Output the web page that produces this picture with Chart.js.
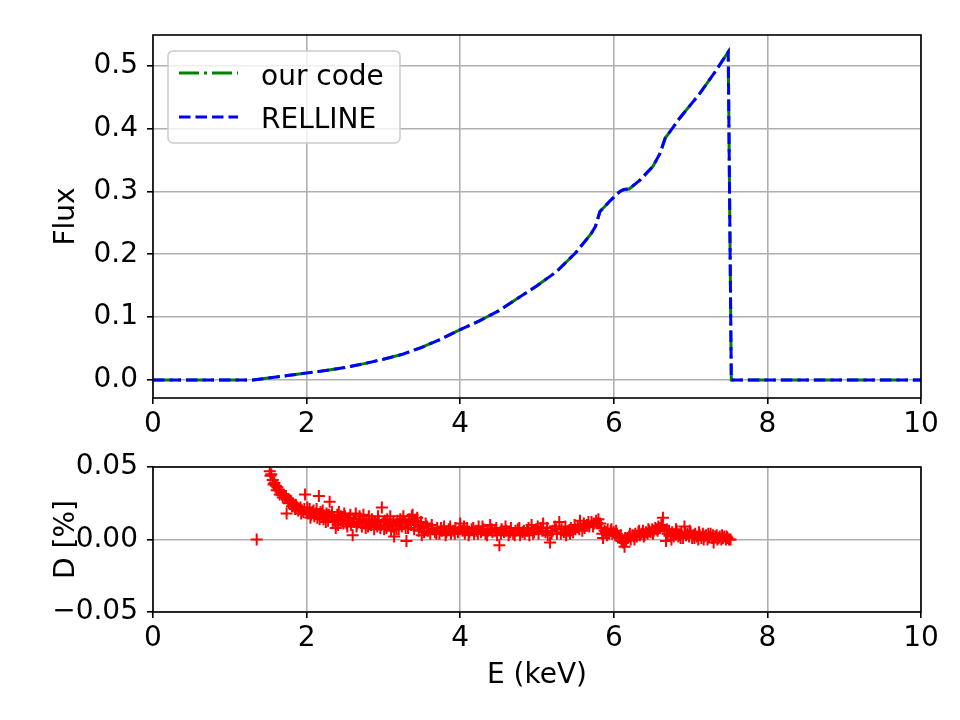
<!DOCTYPE html>
<html>
<head>
<meta charset="utf-8">
<script src="https://cdn.jsdelivr.net/npm/chart.js@4.4.0/dist/chart.umd.min.js"></script>
<style>
  body { margin: 0; background: #fff; }
  #wrap { position: relative; width: 960px; height: 720px; }
  canvas { position: absolute; left: 0; }
</style>
</head>
<body>
<div id="wrap">
  <canvas id="flujo" width="960" height="440" style="top:0px"></canvas>
  <canvas id="resid" width="960" height="280" style="top:440px"></canvas>
</div>
<script>
// energia (keV) y flujo de la linea
var energia = [0, 1.30, 1.50, 1.75, 2.00, 2.25, 2.50, 2.75, 3.00, 3.25, 3.50, 3.75,
  4.00, 4.25, 4.50, 4.75, 5.00, 5.25, 5.50, 5.70, 5.76, 5.82, 5.95, 6.08, 6.13,
  6.20, 6.34, 6.51, 6.60, 6.67, 6.86, 7.12, 7.30, 7.49, 7.53, 10];
var fluxOurCode = [0, 0, 0.003, 0.007, 0.011, 0.015, 0.020, 0.026, 0.033, 0.041, 0.052, 0.065,
  0.080, 0.094, 0.110, 0.130, 0.150, 0.172, 0.202, 0.232, 0.244, 0.268, 0.285, 0.300, 0.303,
  0.304, 0.318, 0.340, 0.360, 0.385, 0.417, 0.456, 0.487, 0.522, 0, 0];
var fluxRelline = [0, 0, 0.003, 0.007, 0.011, 0.015, 0.020, 0.026, 0.033, 0.041, 0.052, 0.065,
  0.080, 0.094, 0.110, 0.130, 0.150, 0.172, 0.202, 0.232, 0.244, 0.268, 0.285, 0.300, 0.303,
  0.304, 0.318, 0.340, 0.360, 0.385, 0.417, 0.456, 0.487, 0.522, 0, 0];

// diferencia D [%] entre los dos codigos
var energiaD = [
  1.35, 1.52, 1.54, 1.56, 1.58, 1.60, 1.62, 1.64, 1.66, 1.68,
  1.70, 1.72, 1.74, 1.76, 1.78, 1.80, 1.82, 1.84, 1.86, 1.88,
  1.90, 1.92, 1.94, 1.96, 1.98, 2.00, 2.02, 2.04, 2.06, 2.08,
  2.10, 2.12, 2.14, 2.16, 2.18, 2.20, 2.22, 2.24, 2.26, 2.28,
  2.30, 2.32, 2.34, 2.36, 2.38, 2.40, 2.42, 2.44, 2.46, 2.48,
  2.50, 2.52, 2.54, 2.56, 2.58, 2.60, 2.62, 2.64, 2.66, 2.68,
  2.70, 2.72, 2.74, 2.76, 2.78, 2.80, 2.82, 2.84, 2.86, 2.88,
  2.90, 2.92, 2.94, 2.96, 2.98, 3.00, 3.02, 3.04, 3.06, 3.08,
  3.10, 3.12, 3.14, 3.16, 3.18, 3.20, 3.22, 3.24, 3.26, 3.28,
  3.30, 3.32, 3.34, 3.36, 3.38, 3.40, 3.42, 3.44, 3.46, 3.48,
  3.50, 3.52, 3.55, 3.58, 3.61, 3.64, 3.67, 3.70, 3.73, 3.76,
  3.79, 3.82, 3.85, 3.88, 3.91, 3.94, 3.97, 4.00, 4.03, 4.06,
  4.09, 4.12, 4.15, 4.18, 4.21, 4.24, 4.27, 4.30, 4.33, 4.36,
  4.39, 4.42, 4.45, 4.48, 4.51, 4.54, 4.57, 4.60, 4.63, 4.66,
  4.69, 4.72, 4.75, 4.78, 4.81, 4.84, 4.87, 4.90, 4.93, 4.96,
  4.99, 5.02, 5.05, 5.08, 5.11, 5.14, 5.17, 5.20, 5.23, 5.26,
  5.29, 5.32, 5.35, 5.38, 5.41, 5.44, 5.47, 5.50, 5.53, 5.56,
  5.59, 5.62, 5.65, 5.68, 5.71, 5.74, 5.77, 5.80, 5.82, 5.84,
  5.86, 5.88, 5.90, 5.92, 5.94, 5.96, 5.98, 6.00, 6.02, 6.04,
  6.06, 6.08, 6.10, 6.12, 6.14, 6.16, 6.18, 6.20, 6.22, 6.24,
  6.26, 6.28, 6.30, 6.32, 6.34, 6.36, 6.38, 6.40, 6.42, 6.44,
  6.46, 6.48, 6.50, 6.52, 6.54, 6.56, 6.58, 6.60, 6.62, 6.64,
  6.66, 6.68, 6.70, 6.72, 6.74, 6.76, 6.78, 6.80, 6.82, 6.84,
  6.86, 6.88, 6.90, 6.92, 6.94, 6.96, 6.98, 7.00, 7.02, 7.04,
  7.06, 7.08, 7.10, 7.12, 7.14, 7.16, 7.18, 7.20, 7.22, 7.24,
  7.26, 7.28, 7.30, 7.32, 7.34, 7.36, 7.38, 7.40, 7.42, 7.44,
  7.46, 7.48, 7.50, 7.52,
  1.53, 1.57, 1.61, 1.65, 1.69, 1.73, 1.77, 1.81, 1.85, 1.89,
  1.93, 1.97, 2.01, 2.05, 2.09, 2.13, 2.17, 2.21, 2.25, 2.29,
  2.33, 2.37, 2.41, 2.45, 2.49, 2.53, 2.57, 2.61, 2.65, 2.69,
  2.73, 2.77, 2.81, 2.85, 2.89, 2.93, 2.97, 3.01, 3.05, 3.09,
  3.13, 3.17, 3.21, 3.25, 3.29, 3.33, 3.37, 3.41, 3.45, 3.49,
  3.53, 3.57, 3.63, 3.69, 3.75, 3.81, 3.87, 3.93, 3.99, 4.05,
  4.11, 4.17, 4.23, 4.29, 4.35, 4.41, 4.47, 4.53, 4.59, 4.65,
  4.71, 4.77, 4.83, 4.89, 4.95, 5.01, 5.07, 5.13, 5.19, 5.25,
  5.31, 5.37, 5.43, 5.49, 5.55, 5.61, 5.67, 5.73, 5.79, 5.85,
  5.91, 5.97, 6.03, 6.09, 6.15, 6.21, 6.27, 6.33, 6.39, 6.45,
  6.51, 6.57, 6.63, 6.69, 6.75, 6.81, 6.87, 6.93, 6.99, 7.05,
  7.11, 7.17, 7.23, 7.29, 7.35, 7.41, 7.47
];
var difD = [
  0.000, 0.047, 0.045, 0.041, 0.039, 0.037, 0.036, 0.034, 0.033, 0.031,
  0.031, 0.029, 0.018, 0.028, 0.027, 0.026, 0.025, 0.023, 0.024, 0.022,
  0.021, 0.022, 0.020, 0.019, 0.031, 0.019, 0.018, 0.021, 0.017, 0.019,
  0.016, 0.018, 0.015, 0.030, 0.019, 0.017, 0.014, 0.016, 0.018, 0.013,
  0.026, 0.016, 0.012, 0.015, 0.008, 0.017, 0.019, 0.013, 0.014, 0.011,
  0.016, 0.011, 0.013, 0.015, 0.010, 0.003, 0.012, 0.018, 0.011, 0.012,
  0.014, 0.009, 0.017, 0.011, 0.013, 0.009, 0.013, 0.010, 0.012, 0.007,
  0.011, 0.009, 0.013, 0.008, 0.022, 0.012, 0.013, 0.008, 0.010, 0.011,
  0.006, 0.009, 0.002, 0.010, 0.013, 0.007, 0.014, 0.009, 0.016, 0.012,
  -0.001, 0.008, 0.014, 0.010, 0.017, 0.007, 0.012, 0.015, 0.006, 0.009,
  0.003, 0.008, 0.011, 0.006, 0.004, 0.007, 0.005, 0.008, 0.004, 0.006,
  0.009, 0.005, 0.007, 0.004, 0.006, 0.008, 0.005, 0.011, 0.006, 0.004,
  0.008, 0.005, 0.007, 0.004, 0.006, 0.009, 0.005, 0.007, 0.004, 0.006,
  0.010, 0.005, 0.006, 0.003, -0.004, 0.007, 0.005, 0.006, 0.003, 0.008,
  0.004, 0.006, 0.007, 0.003, 0.005, 0.004, 0.006, 0.003, 0.010, 0.005,
  0.007, 0.004, 0.008, 0.011, 0.005, 0.003, -0.002, 0.006, 0.009, 0.004,
  0.012, 0.007, 0.005, 0.003, 0.006, 0.008, 0.005, 0.007, 0.009, 0.013,
  0.006, 0.008, 0.010, 0.009, 0.012, 0.011, 0.013, 0.014, 0.011, 0.008,
  0.001, 0.006, 0.005, 0.007, 0.004, 0.006, 0.004, 0.005, 0.003, 0.004,
  0.002, 0.001, -0.001, -0.002, -0.005, -0.001, 0.001, 0.002, 0.000, 0.003,
  0.002, 0.004, 0.002, 0.005, 0.003, 0.004, 0.006, 0.003, 0.005, 0.004,
  0.006, 0.005, 0.007, 0.006, 0.008, 0.007, 0.009, 0.008, 0.010, 0.015,
  0.006, -0.001, 0.004, 0.006, 0.003, 0.005, 0.002, 0.004, 0.006, 0.002,
  0.003, 0.005, 0.001, 0.009, 0.003, 0.004, 0.002, 0.005, 0.001, 0.003,
  0.004, 0.002, 0.000, 0.003, 0.001, 0.004, 0.002, 0.003, 0.000, 0.002,
  0.004, 0.001, -0.002, 0.002, 0.003, 0.001, 0.002, 0.000, 0.001, 0.002,
  0.000, 0.001, 0.000, 0.000,
  0.044, 0.038, 0.034, 0.031, 0.029, 0.030, 0.025, 0.023, 0.021, 0.020,
  0.018, 0.021, 0.022, 0.015, 0.020, 0.021, 0.014, 0.020, 0.012, 0.017,
  0.019, 0.013, 0.010, 0.016, 0.018, 0.009, 0.017, 0.014, 0.009, 0.016,
  0.013, 0.008, 0.016, 0.014, 0.012, 0.016, 0.010, 0.007, 0.014, 0.016,
  0.012, 0.007, 0.011, 0.013, 0.008, 0.011, 0.016, 0.013, 0.010, 0.012,
  0.005, 0.009, 0.010, 0.004, 0.008, 0.003, 0.009, 0.004, 0.007, 0.009,
  0.003, 0.008, 0.004, 0.009, 0.003, 0.007, 0.008, 0.004, 0.009, 0.005,
  0.003, 0.008, 0.006, 0.008, 0.004, 0.009, 0.006, 0.008, 0.004, 0.007,
  0.004, 0.009, 0.004, 0.010, 0.007, 0.011, 0.012, 0.009, 0.011, 0.004,
  0.003, 0.007, 0.006, 0.003, 0.001, 0.004, 0.000, 0.006, 0.002, 0.007,
  0.004, 0.006, 0.009, 0.007, 0.000, 0.007, 0.001, 0.005, 0.006, 0.001,
  0.005, 0.000, 0.004, 0.003, 0.000, 0.003, 0.002
];

// marcas de los ejes
var ticksE = [0, 2, 4, 6, 8, 10];
var ticksFlux = [0, 0.1, 0.2, 0.3, 0.4, 0.5];
var ticksD = [-0.05, 0, 0.05];

Chart.defaults.font.family = "'DejaVu Sans', sans-serif";
Chart.defaults.font.size = 28;
Chart.defaults.color = "#000";

function pares(xs, ys) {
  return xs.map(function (x, i) { return { x: x, y: ys[i] }; });
}

// marco negro alrededor del area y leyenda tipo matplotlib
var marco = {
  id: "marco",
  afterDatasetsDraw: function (chart, args, opts) {
    var a = chart.chartArea, c = chart.ctx;
    c.save();
    if (opts.leyenda) {
      var lx = a.left + 15, ly = a.top + 16;
      c.beginPath();
      c.roundRect(lx, ly, 232, 92, 5);
      c.fillStyle = "rgba(255,255,255,0.8)";
      c.fill();
      c.strokeStyle = "#cccccc";
      c.lineWidth = 1.5;
      c.stroke();
      chart.data.datasets.forEach(function (ds, i) {
        c.beginPath();
        c.setLineDash(ds.borderDash);
        c.strokeStyle = ds.borderColor;
        c.lineWidth = ds.borderWidth;
        c.moveTo(lx + 11, ly + 22 + 44 * i);
        c.lineTo(lx + 70, ly + 22 + 44 * i);
        c.stroke();
        c.setLineDash([]);
        c.fillStyle = "#000";
        c.font = "28px 'DejaVu Sans'";
        c.textBaseline = "alphabetic";
        c.fillText(ds.label, lx + 93, ly + 34 + 42.5 * i);
      });
    }
    c.strokeStyle = "#000";
    c.lineWidth = 1.6;
    c.strokeRect(a.left, a.top, a.right - a.left, a.bottom - a.top);
    c.restore();
  }
};

function ejes(yMin, yMax, yTicks, yFmt, yTitulo, xAlto, xTitulo) {
  var rejilla = { color: "#b0b0b0", lineWidth: 1.6, tickColor: "#000", tickWidth: 1.6, tickLength: 6 };
  return {
    x: {
      type: "linear", min: 0, max: 10,
      grid: rejilla,
      border: { display: false },
      afterBuildTicks: function (s) { s.ticks = ticksE.map(function (v) { return { value: v }; }); },
      afterFit: function (s) { s.height = xAlto; },
      ticks: { padding: 4, maxRotation: 0, callback: function (v) { return String(v); } },
      title: { display: !!xTitulo, text: xTitulo || "", padding: { top: 0, bottom: 27 } }
    },
    y: {
      type: "linear", min: yMin, max: yMax,
      grid: rejilla,
      border: { display: false },
      afterBuildTicks: function (s) { s.ticks = yTicks.map(function (v) { return { value: v }; }); },
      afterFit: function (s) { s.width = 153; },
      ticks: { padding: 9, callback: yFmt },
      title: { display: true, text: yTitulo, padding: { top: 50, bottom: 0 } }
    }
  };
}

// grafico de flujo
new Chart(document.getElementById("flujo"), {
  type: "line",
  data: {
    datasets: [
      {
        label: "our code",
        data: pares(energia, fluxOurCode),
        borderColor: "#008000",
        borderWidth: 3,
        borderDash: [20, 5, 3, 5],
        pointRadius: 0,
        order: 1
      },
      {
        label: "RELLINE",
        data: pares(energia, fluxRelline),
        borderColor: "#0000ff",
        borderWidth: 3,
        borderDash: [11.5, 5],
        pointRadius: 0,
        order: 0
      }
    ]
  },
  options: {
    responsive: false,
    animation: false,
    devicePixelRatio: 1,
    layout: { padding: { top: 35, right: 39, bottom: 0, left: 0 } },
    scales: ejes(-0.0287, 0.549, ticksFlux, function (v) { return v.toFixed(1); }, "Flux", 42, null),
    plugins: { legend: { display: false }, tooltip: { enabled: false }, marco: { leyenda: true } }
  },
  plugins: [marco]
});

// grafico de diferencias
new Chart(document.getElementById("resid"), {
  type: "scatter",
  data: {
    datasets: [
      {
        label: "D",
        data: pares(energiaD, difD),
        pointStyle: "cross",
        pointRadius: 6,
        borderWidth: 2,
        borderColor: "#ff0000",
        backgroundColor: "#ff0000"
      }
    ]
  },
  options: {
    responsive: false,
    animation: false,
    devicePixelRatio: 1,
    layout: { padding: { top: 27, right: 39, bottom: 0, left: 0 } },
    scales: ejes(-0.05, 0.05, ticksD, function (v) { return v.toFixed(2).replace("-", "\u2212"); }, "D [%]", 108, "E (keV)"),
    plugins: { legend: { display: false }, tooltip: { enabled: false }, marco: { leyenda: false } }
  },
  plugins: [marco]
});
</script>
</body>
</html>
